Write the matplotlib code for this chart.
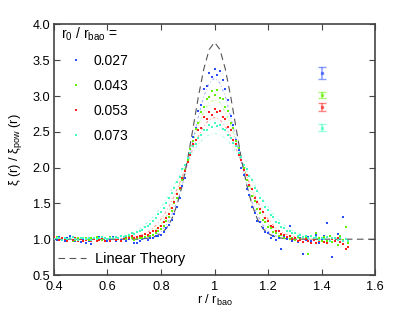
import numpy as np
import matplotlib
matplotlib.use("Agg")
import matplotlib.pyplot as plt

plt.rcParams['font.family'] = ['Liberation Sans', 'DejaVu Sans']
plt.rcParams['mathtext.fontset'] = 'custom'
plt.rcParams['mathtext.rm'] = 'Liberation Sans'
plt.rcParams['mathtext.it'] = 'Liberation Sans:italic'
plt.rcParams['mathtext.default'] = 'regular'

# ---------------- data ----------------
labels = ["0.027", "0.043", "0.053", "0.073"]
colors = ["#2a4cff", "#62f000", "#ff1e1e", "#40ffbe"]

x_start, x_step = 0.40, 0.01   # measured points r / r_bao

blue = [1.02, 0.99, 1.03, 1.00, 0.98, 1.01, 1.04, 0.99, 0.97, 1.02,
        0.96, 1.00, 0.94, 0.97, 0.93, 1.01, 0.98, 1.03, 0.99, 1.02,
        0.97, 1.00, 1.03, 0.98, 1.01, 0.99, 1.02, 0.97, 1.00, 1.01,
        0.95, 0.94, 0.98, 1.00, 1.01, 0.99, 1.02, 1.01, 1.04, 1.05,
        1.06, 1.10, 1.15, 1.20, 1.27, 1.35, 1.45, 1.58, 1.75, 1.85,
        2.08, 2.20, 2.43, 2.55, 2.79, 2.88, 3.10, 3.14, 3.32, 3.26,
        3.38, 3.30, 3.35, 3.22, 3.10, 2.95, 2.72, 2.60, 2.38, 2.25,
        2.00, 1.90, 1.70, 1.62, 1.45, 1.36, 1.26, 1.24, 1.15, 1.10,
        1.08, 1.02, 1.05, 0.99, 1.01, 0.86, 1.03, 1.00, 1.18, 0.98,
        1.02, 0.96, 1.01, 0.79, 0.99, 1.03, 0.97, 1.01, 1.06, 0.95,
        1.00, 1.04, 1.22, 0.98, 0.75, 1.02, 1.07, 0.96, 1.31, 1.00,
        0.98]

green = [1.01, 1.03, 0.99, 1.02, 1.00, 0.98, 1.01, 0.97, 0.99, 1.02,
         1.00, 0.98, 1.01, 0.99, 1.02, 1.00, 1.03, 1.01, 0.99, 1.02,
         1.00, 1.03, 1.01, 0.99, 1.02, 1.04, 1.02, 1.00, 1.03, 1.01,
         0.99, 1.02, 1.01, 1.02, 1.03, 1.04, 1.05, 1.06, 1.09, 1.12,
         1.14, 1.19, 1.25, 1.31, 1.40, 1.50, 1.58, 1.70, 1.83, 1.96,
         2.10, 2.26, 2.37, 2.54, 2.63, 2.78, 2.84, 2.96, 2.98, 3.07,
         3.02, 3.08, 2.97, 2.96, 2.84, 2.79, 2.63, 2.55, 2.37, 2.28,
         2.10, 2.00, 1.83, 1.74, 1.60, 1.54, 1.42, 1.36, 1.27, 1.24,
         1.17, 1.15, 1.10, 1.09, 1.05, 1.06, 1.02, 1.03, 1.00, 1.02,
         0.99, 1.03, 1.00, 0.96, 1.02, 0.79, 1.04, 0.99, 1.08, 1.01,
         0.97, 1.03, 0.98, 1.05, 0.96, 1.01, 0.92, 1.04, 0.99, 1.17,
         0.95]

red = [1.03, 1.01, 0.99, 1.02, 1.00, 0.98, 1.01, 0.99, 1.02, 0.98,
       1.00, 0.97, 0.99, 1.01, 0.98, 1.00, 0.97, 0.99, 1.01, 0.98,
       1.00, 0.98, 1.01, 0.99, 1.00, 0.98, 1.01, 1.03, 1.02, 1.04,
       1.02, 1.03, 1.05, 1.04, 1.07, 1.06, 1.09, 1.12, 1.11, 1.16,
       1.18, 1.24, 1.30, 1.35, 1.44, 1.52, 1.63, 1.72, 1.85, 1.95,
       2.08, 2.18, 2.33, 2.38, 2.52, 2.56, 2.70, 2.68, 2.78, 2.74,
       2.82, 2.77, 2.79, 2.70, 2.68, 2.57, 2.52, 2.39, 2.33, 2.18,
       2.11, 1.96, 1.90, 1.76, 1.70, 1.57, 1.52, 1.42, 1.38, 1.29,
       1.26, 1.19, 1.17, 1.12, 1.11, 1.07, 1.06, 1.03, 1.04, 1.00,
       1.01, 0.98, 0.99, 0.96, 1.00, 0.97, 0.94, 0.99, 0.95, 0.97,
       1.01, 0.96, 0.95, 0.97, 1.00, 0.98, 1.02, 0.96, 0.93, 0.87,
       0.89]

cyan = [1.00, 1.02, 1.01, 0.99, 1.02, 1.00, 1.01, 1.03, 1.00, 0.99,
        1.01, 1.02, 1.00, 1.01, 0.99, 1.02, 1.00, 1.01, 1.03, 1.01,
        1.00, 1.02, 1.01, 1.03, 1.02, 1.04, 1.03, 1.05, 1.06, 1.08,
        1.07, 1.10, 1.12, 1.13, 1.17, 1.19, 1.21, 1.26, 1.29, 1.35,
        1.38, 1.44, 1.51, 1.57, 1.65, 1.72, 1.80, 1.87, 1.98, 2.04,
        2.14, 2.20, 2.30, 2.33, 2.42, 2.46, 2.52, 2.53, 2.60, 2.57,
        2.62, 2.58, 2.59, 2.54, 2.52, 2.45, 2.42, 2.34, 2.30, 2.20,
        2.15, 2.04, 1.98, 1.88, 1.82, 1.72, 1.67, 1.58, 1.53, 1.45,
        1.41, 1.34, 1.31, 1.24, 1.23, 1.17, 1.16, 1.12, 1.12, 1.08,
        1.08, 1.05, 1.06, 1.03, 1.04, 1.02, 1.05, 1.01, 1.03, 0.99,
        1.02, 1.00, 1.03, 0.98, 1.01, 1.02, 0.99, 1.01, 0.97, 1.00,
        0.98]

# smoothed model curves for each r0 (r from 0.60 to 1.40, step 0.02)
s_start, s_step = 0.60, 0.02
blue_smooth = [1.00, 1.00, 1.00, 1.00, 1.00, 1.00, 1.01, 1.01, 1.03, 1.06,
               1.11, 1.20, 1.34, 1.52, 1.77, 2.07, 2.40, 2.72, 3.00, 3.18,
               3.25, 3.18, 3.00, 2.72, 2.40, 2.07, 1.77, 1.52, 1.34, 1.20,
               1.11, 1.06, 1.03, 1.01, 1.01, 1.00, 1.00, 1.00, 1.00, 1.00, 1.00]
green_smooth = [1.00, 1.00, 1.00, 1.00, 1.01, 1.01, 1.03, 1.05, 1.08, 1.13,
                1.21, 1.32, 1.47, 1.66, 1.88, 2.12, 2.37, 2.60, 2.78, 2.91,
                2.95, 2.91, 2.78, 2.60, 2.37, 2.12, 1.88, 1.66, 1.47, 1.32,
                1.21, 1.13, 1.08, 1.05, 1.03, 1.01, 1.01, 1.00, 1.00, 1.00, 1.00]
red_smooth = [1.00, 1.00, 1.00, 1.01, 1.02, 1.03, 1.05, 1.08, 1.12, 1.19,
              1.28, 1.39, 1.53, 1.70, 1.88, 2.08, 2.27, 2.44, 2.58, 2.67,
              2.70, 2.67, 2.58, 2.44, 2.27, 2.08, 1.88, 1.70, 1.53, 1.39,
              1.28, 1.19, 1.12, 1.08, 1.05, 1.03, 1.02, 1.01, 1.00, 1.00, 1.00]
cyan_smooth = [1.01, 1.02, 1.03, 1.05, 1.07, 1.10, 1.14, 1.20, 1.27, 1.35,
               1.45, 1.56, 1.69, 1.83, 1.96, 2.10, 2.22, 2.33, 2.41, 2.46,
               2.48, 2.46, 2.41, 2.33, 2.22, 2.10, 1.96, 1.83, 1.69, 1.56,
               1.45, 1.35, 1.27, 1.20, 1.14, 1.10, 1.07, 1.05, 1.03, 1.02, 1.01]

# linear theory (r from 0.40 to 1.60, step 0.02)
lin_start, lin_step = 0.40, 0.02
linear = [1.00] * 17 + [1.01, 1.02, 1.04, 1.08, 1.15, 1.28, 1.48, 1.76, 2.13,
                         2.56, 3.00, 3.38, 3.65, 3.75, 3.65, 3.38, 3.00, 2.56,
                         2.13, 1.76, 1.48, 1.28, 1.15, 1.08, 1.04, 1.02, 1.01] + [1.00] * 17

# representative error bars at r = 1.4
err_x = 1.40
err_y = [3.32, 3.014, 2.845, 2.557]
err_e = [0.085, 0.038, 0.052, 0.052]

xticks = [0.4, 0.6, 0.8, 1.0, 1.2, 1.4, 1.6]
yticks = [0.5, 1.0, 1.5, 2.0, 2.5, 3.0, 3.5, 4.0]

# ---------------- plot ----------------
fig = plt.figure(figsize=(4.15, 3.13), dpi=100)
ax = fig.add_axes([0.130, 0.1214, 0.774, 0.8006])

series = [blue, green, red, cyan]
smooths = [blue_smooth, green_smooth, red_smooth, cyan_smooth]

handles = []
for vals, sm, col, lab in zip(series, smooths, colors, labels):
    xs = x_start + x_step * np.arange(len(vals))
    xsm = s_start + s_step * np.arange(len(sm))
    ax.plot(xsm, sm, color=col, lw=0.6, ls=(0, (3, 3, 1, 3)), alpha=0.55, zorder=2)
    h, = ax.plot(xs, vals, ls='none', marker='s', ms=2.0, mew=0, color=col,
                 label=lab, zorder=3)
    handles.append(h)

xl = lin_start + lin_step * np.arange(len(linear))
lh, = ax.plot(xl, linear, color='#555555', lw=0.8, ls=(0, (6, 4)), zorder=2.5,
              label='Linear Theory')

for y, e, col in zip(err_y, err_e, colors):
    ax.errorbar([err_x], [y], yerr=[e], fmt='s', ms=1.8, color=col, ecolor=col,
                elinewidth=1.1, capsize=2.6, capthick=1.0, alpha=0.55)

ax.set_xlim(0.4, 1.6)
ax.set_ylim(0.5, 4.0)
ax.set_xticks(xticks)
ax.set_yticks(yticks)
ax.set_xticklabels(['%g' % t for t in xticks])
ax.set_yticklabels(['%.1f' % t for t in yticks])
ax.tick_params(direction='in', length=4, width=0.8, color='#444444',
               top=True, right=True, labelsize=9.2)
ax.tick_params(axis='x', pad=4.5)
ax.tick_params(axis='y', pad=2.5)
for sp in ax.spines.values():
    sp.set_color('#444444')
    sp.set_linewidth(1.2)

ax.set_xlabel('r / r$_{bao}$', fontsize=9.2, labelpad=0)
ax.set_ylabel('ξ (r) / ξ$_{pow}$ (r)', fontsize=9.2, labelpad=6)

leg1 = ax.legend(handles=handles, title='r$_0$ / r$_{bao}$ =', loc='upper left',
                 frameon=False, fontsize=10, title_fontsize=10, markerscale=1.0,
                 handlelength=2.1, handletextpad=0.2, labelspacing=0.78,
                 borderaxespad=0.0, borderpad=0.3, numpoints=1,
                 bbox_to_anchor=(0.01, 1.01))
leg1._legend_box.align = 'left'
ax.add_artist(leg1)

ax.legend(handles=[lh], loc='lower left', frameon=False, fontsize=10.5,
          handlelength=1.9, handletextpad=0.6, borderaxespad=0.0, borderpad=0.3,
          bbox_to_anchor=(0.0, 0.02))

fig.savefig('out.png', dpi=100)
